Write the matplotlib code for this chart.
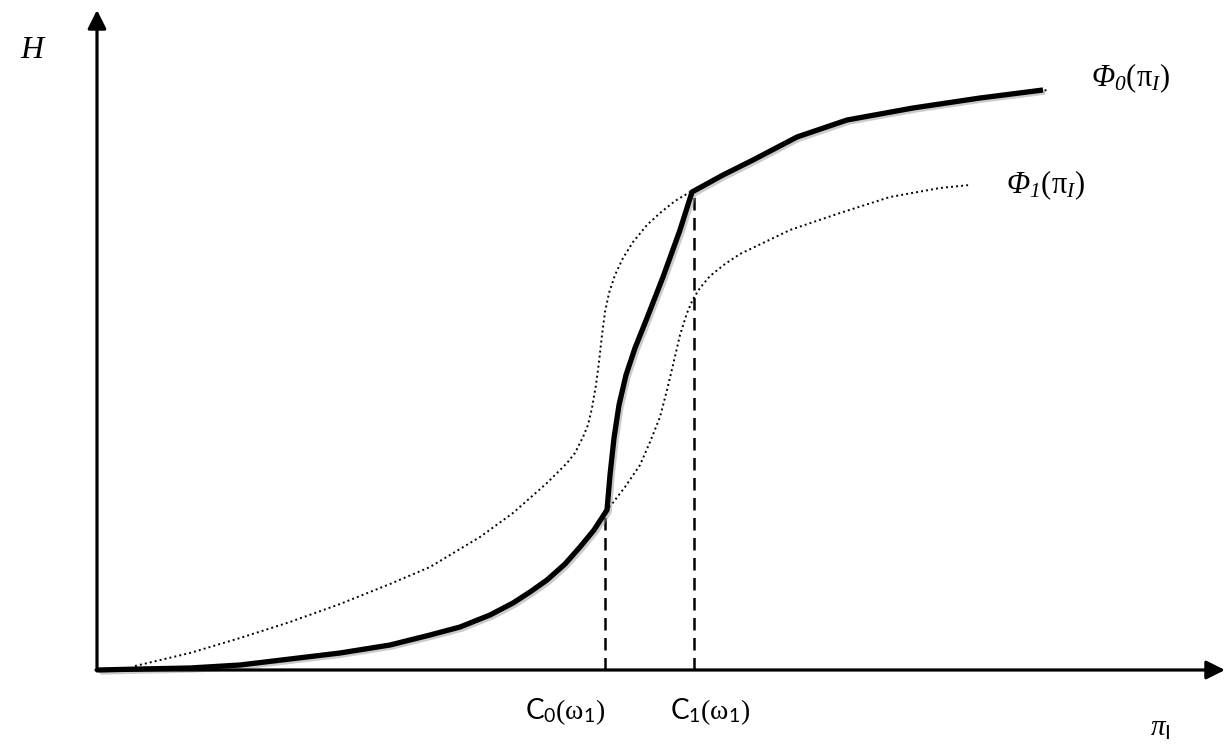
import matplotlib
matplotlib.use("Agg")
import matplotlib.pyplot as plt
import matplotlib.patheffects as pe

# ----------------------------------------------------------------------
# DATA (x along pi_I, H measured up from the horizontal axis)
# ----------------------------------------------------------------------
# thick equilibrium path
path_x = [98, 140, 190, 240, 290, 340, 390, 430, 460, 490, 513, 530, 547,
          565, 580, 594, 607,
          610, 614, 619, 626, 635, 647, 663, 680, 692,
          723, 753, 797, 847, 913, 980, 1043]
path_h = [0, 1, 2, 5, 11, 17, 25, 35, 43, 55, 67, 78, 90,
          106, 123, 140, 160,
          195, 232, 265, 295, 322, 352, 393, 440, 478,
          495, 510, 533, 550, 562, 572, 580]

# Phi_0 (dotted, left branch) -- runs under the thick path after C1
phi0_x = [135, 190, 240, 290, 340, 390, 430, 480, 513, 547, 567, 575, 583,
          588, 592, 596, 599, 602, 605, 609, 615, 623, 633, 647, 660, 675, 690,
          723, 753, 797, 847, 913, 980, 1048]
phi0_h = [4, 17, 32, 48, 66, 86, 103, 133, 157, 187, 207, 217, 233,
          245, 262, 285, 308, 335, 358, 377, 395, 412, 428, 445, 457, 469, 478,
          495, 510, 533, 550, 562, 572, 580]

# Phi_1 (dotted, right branch) -- runs under the thick path up to C0
phi1_x = [98, 140, 190, 240, 290, 340, 390, 430, 460, 490, 513, 530, 547,
          565, 580, 594, 607,
          615, 625, 640, 650, 660, 667, 673, 680, 687, 693, 700, 710, 725,
          740, 790, 840, 890, 940, 970]
phi1_h = [0, 1, 2, 5, 11, 17, 25, 35, 43, 55, 67, 78, 90,
          106, 123, 140, 160,
          170, 183, 205, 228, 253, 280, 305, 335, 357, 371, 382, 394, 406,
          416, 440, 457, 473, 482, 485]

c0_x, c0_h = 605, 160
c1_x, c1_h = 694, 478

# ----------------------------------------------------------------------
plt.rcParams["mathtext.fontset"] = "custom"
plt.rcParams["mathtext.rm"] = "Liberation Serif"
plt.rcParams["mathtext.it"] = "Liberation Serif:italic"
plt.rcParams["mathtext.bf"] = "Liberation Serif:italic"   # italic capital Phi
plt.rcParams["mathtext.sf"] = "Lato"

fig = plt.figure(figsize=(12.25, 7.45), dpi=100, facecolor="white")
ax = fig.add_axes([0, 0, 1, 1])
ax.set_xlim(0, 1225)
ax.set_ylim(-75, 670)
ax.axis("off")

# axes with arrows
ax.annotate("", xy=(97, 660), xytext=(97, -1),
            arrowprops=dict(arrowstyle="-|>", lw=2.3, color="black",
                            mutation_scale=28, shrinkA=0, shrinkB=0))
ax.annotate("", xy=(1225, 0), xytext=(96, 0),
            arrowprops=dict(arrowstyle="-|>", lw=2.3, color="black",
                            mutation_scale=28, shrinkA=0, shrinkB=0))

# dotted Phi curves
ax.plot(phi0_x, phi0_h, color="black", lw=1.4, ls=(0, (1, 1.6)))
ax.plot(phi1_x, phi1_h, color="black", lw=1.4, ls=(0, (1, 1.6)))

# dashed verticals
ax.plot([c0_x, c0_x], [0, c0_h], color="black", lw=1.8, ls=(0, (5, 3)))
ax.plot([c1_x, c1_x], [0, c1_h], color="black", lw=1.8, ls=(0, (5, 3)))

# thick path
shadow = [pe.SimpleLineShadow(offset=(1.5, -1.5), shadow_color="0.6", alpha=0.5),
          pe.Normal()]
ax.plot(path_x, path_h, color="black", lw=3.8, solid_joinstyle="round",
        solid_capstyle="butt", path_effects=shadow)

# labels
ax.text(33, 620, r"$H$", fontsize=23, ha="center", va="center")
ax.text(1131, 592, r"$\mathbf{\Phi_0}(\mathrm{\pi}_{I})$", fontsize=22,
        ha="center", va="center")
ax.text(1046, 485, r"$\mathbf{\Phi_1}(\mathrm{\pi}_{I})$", fontsize=22,
        ha="center", va="center")
ax.text(565, -42, r"$\mathsf{C}_{\mathsf{0}}(\mathrm{\omega}_{\mathsf{1}})$",
        fontsize=20, ha="center", va="center")
ax.text(710, -42, r"$\mathsf{C}_{\mathsf{1}}(\mathrm{\omega}_{\mathsf{1}})$",
        fontsize=20, ha="center", va="center")
ax.text(1160, -58, r"$\pi_{\mathsf{I}}$", fontsize=21, ha="center", va="center")

fig.savefig("out.png", dpi=100, facecolor="white")
